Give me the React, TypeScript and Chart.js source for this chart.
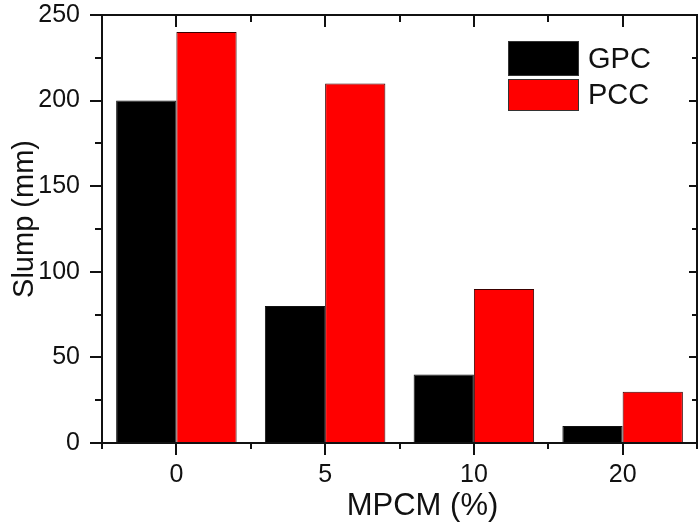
import React, { useEffect, useRef } from 'react';
import { Chart, registerables } from 'chart.js';

Chart.register(...registerables);

const categories = ['0', '5', '10', '20'];
const gpcValues = [200, 80, 40, 10];
const pccValues = [240, 210, 90, 30];
const seriesNames = ['GPC', 'PCC'];
const seriesColors = ['#000000', '#ff0000'];
const yMajorTicks = [0, 50, 100, 150, 200, 250];
const yMinorTicks = [25, 75, 125, 175, 225];
const xTitle = 'MPCM (%)';
const yTitle = 'Slump (mm)';

const FONT = '"Liberation Sans", Arial, Helvetica, sans-serif';

const framePlugin = {
  id: 'framePlugin',
  afterDraw(chart: any) {
    const { ctx, chartArea: a, scales } = chart;
    const xs = scales.x;
    const ys = scales.y;
    ctx.save();
    ctx.strokeStyle = '#111';
    ctx.lineWidth = 2;
    ctx.lineCap = 'butt';
    ctx.beginPath();
    yMajorTicks.forEach((v) => {
      const py = Math.round(ys.getPixelForValue(v));
      ctx.moveTo(a.left - 12, py);
      ctx.lineTo(a.left, py);
      ctx.moveTo(a.right, py);
      ctx.lineTo(a.right - 8, py);
    });
    yMinorTicks.forEach((v) => {
      const py = Math.round(ys.getPixelForValue(v));
      ctx.moveTo(a.left - 7, py);
      ctx.lineTo(a.left, py);
      ctx.moveTo(a.right, py);
      ctx.lineTo(a.right - 5, py);
    });
    categories.forEach((_, i) => {
      const px = Math.round(xs.getPixelForValue(i));
      ctx.moveTo(px, a.bottom);
      ctx.lineTo(px, a.bottom + 12);
      ctx.moveTo(px, a.top);
      ctx.lineTo(px, a.top + 12);
    });
    for (let i = 0; i <= categories.length; i++) {
      const px = Math.round(xs.getPixelForValue(i - 0.5));
      ctx.moveTo(px, a.bottom);
      ctx.lineTo(px, a.bottom + 6);
      ctx.moveTo(px, a.top);
      ctx.lineTo(px, a.top + 7);
    }
    ctx.stroke();
    ctx.strokeRect(a.left, a.top, a.right - a.left, a.bottom - a.top);

    // legend
    const ds = chart.data.datasets;
    const sx = a.right - 189;
    const sw = 71;
    const tops = [a.top + 26, a.top + 64];
    const hs = [35, 32];
    ctx.lineWidth = 1;
    ctx.font = `29px ${FONT}`;
    ctx.textBaseline = 'middle';
    ctx.textAlign = 'left';
    ds.forEach((d: any, i: number) => {
      ctx.fillStyle = d.backgroundColor;
      ctx.fillRect(sx, tops[i], sw, hs[i]);
      ctx.strokeStyle = '#333';
      ctx.strokeRect(sx + 0.5, tops[i] + 0.5, sw - 1, hs[i] - 1);
      ctx.fillStyle = '#111';
      ctx.fillText(d.label, sx + sw + 9, tops[i] + hs[i] / 2 + 1);
    });

    // axis titles
    ctx.fillStyle = '#111';
    ctx.font = `31px ${FONT}`;
    ctx.textAlign = 'center';
    ctx.textBaseline = 'alphabetic';
    ctx.fillText(xTitle, (a.left + a.right) / 2 + 23, 515);
    ctx.save();
    ctx.translate(33, (a.top + a.bottom) / 2 - 10);
    ctx.rotate(-Math.PI / 2);
    ctx.font = `29px ${FONT}`;
    ctx.fillText(yTitle, 0, 0);
    ctx.restore();
    ctx.restore();
  },
};

export default function App() {
  const ref = useRef<HTMLCanvasElement | null>(null);
  useEffect(() => {
    document.body.style.margin = '0';
    const canvas = ref.current;
    if (!canvas) return;
    const chart = new Chart(canvas, {
      type: 'bar',
      data: {
        labels: categories,
        datasets: [
          {
            label: seriesNames[0],
            data: gpcValues,
            backgroundColor: seriesColors[0],
            borderColor: '#111',
            borderWidth: 1,
            categoryPercentage: 0.81,
            barPercentage: 1,
          },
          {
            label: seriesNames[1],
            data: pccValues,
            backgroundColor: seriesColors[1],
            borderColor: '#3a0000',
            borderWidth: 1,
            categoryPercentage: 0.81,
            barPercentage: 1,
          },
        ],
      },
      options: {
        responsive: false,
        animation: false,
        devicePixelRatio: 1,
        layout: { padding: { top: 15, right: 3, left: 0, bottom: 0 } },
        plugins: {
          legend: { display: false },
          tooltip: { enabled: false },
          title: { display: false },
        },
        scales: {
          x: {
            type: 'category',
            offset: true,
            grid: {
              display: true,
              drawOnChartArea: false,
              drawTicks: true,
              tickLength: 12,
              color: 'rgba(0,0,0,0)',
            },
            border: { display: false },
            ticks: {
              color: '#111',
              font: { family: FONT, size: 25 },
              padding: 5,
              maxRotation: 0,
            },
            afterFit: (s: any) => {
              s.height = 79;
              s.paddingLeft = 0;
              s.paddingRight = 0;
            },
          },
          y: {
            min: 0,
            max: 250,
            grid: {
              display: true,
              drawOnChartArea: false,
              drawTicks: true,
              tickLength: 12,
              color: 'rgba(0,0,0,0)',
            },
            border: { display: false },
            ticks: {
              stepSize: 50,
              color: '#111',
              font: { family: FONT, size: 25 },
              padding: 10,
            },
            afterFit: (s: any) => {
              s.width = 102;
              s.paddingTop = 0;
              s.paddingBottom = 0;
            },
          },
        },
      },
      plugins: [framePlugin],
    });
    return () => chart.destroy();
  }, []);
  return (
    <div style={{ width: 700, height: 522 }}>
      <canvas ref={ref} width={700} height={522} />
    </div>
  );
}
